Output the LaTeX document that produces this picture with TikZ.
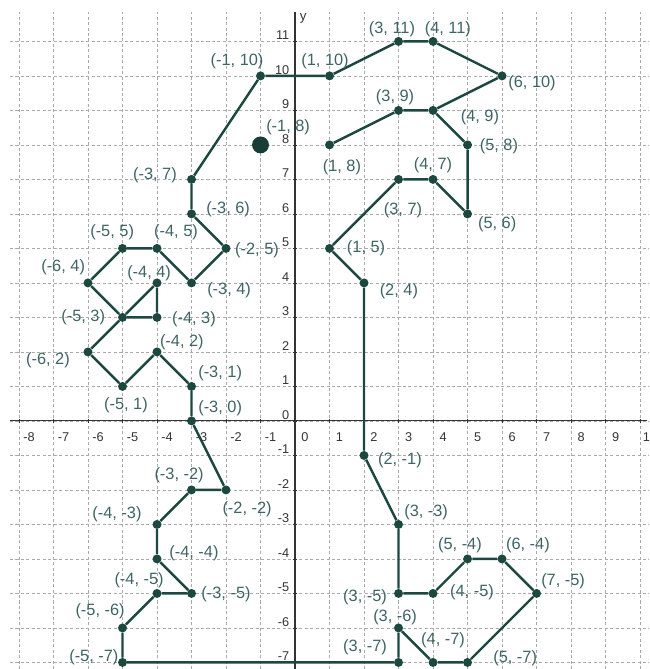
\documentclass[tikz,border=0pt]{standalone}
\usepackage{fontspec}
\setmainfont{Liberation Sans}
\definecolor{linec}{RGB}{28,72,64}
\definecolor{labc}{RGB}{62,100,100}
\definecolor{gridc}{RGB}{170,170,170}
\begin{document}
\begin{tikzpicture}[x=1cm,y=1cm,
  pt/.style={circle,fill=linec,inner sep=0pt,minimum size=0.26cm},
  bigpt/.style={circle,fill=linec!85!black,inner sep=0pt,minimum size=0.49cm},
  lab/.style={text=labc,font=\fontsize{13.5}{14}\selectfont,inner sep=0pt},
  ticklab/.style={font=\fontsize{10.5}{11}\selectfont,text=black!80,inner sep=0pt},
  gridline/.style={draw=gridc,line width=0.5pt,dash pattern=on 2.5pt off 2pt},
  axisline/.style={draw=black!80,line width=0.9pt},
  seg/.style={draw=linec,line width=2pt}]
\useasboundingbox (-8.551,-7.19) rectangle (10.261,12.20);
\clip (-8.551,-7.19) rectangle (10.261,12.20);
% grid
\foreach \x in {-8,...,10} \draw[gridline] (\x,-7.19) -- (\x,11.86);
\foreach \y in {-7,...,11} \draw[gridline] (-8.26,\y) -- (10.26,\y);
% axes
\coordinate (xa0) at (-8.26,0);
\coordinate (xa1) at (10.2,0);
\coordinate (ya0) at (0,-7.19);
\coordinate (ya1) at (0,11.86);
\draw[axisline] (xa0) -- (xa1);
\draw[axisline] (ya0) -- (ya1);
\foreach \x in {-8,...,10} {
  \draw[axisline,line width=0.6pt] (\x,-0.07) -- (\x,0.07);
  \node[ticklab] (xl\x) at (\x+0.29,-0.46) {\x};
}
\foreach \y in {-7,...,11} {
  \draw[axisline,line width=0.6pt] (-0.07,\y) -- (0.07,\y);
  \node[ticklab,anchor=east] (yl\y) at (-0.16,\y+0.17) {\y};
}
\node[ticklab,font=\fontsize{11}{12}\selectfont] (ylab) at (0.24,11.68) {y};
% points
\foreach \n/\x/\y in {t1/-1/10,t2/1/10,t3/3/11,t4/4/11,t5/6/10,t6/4/9,t7/3/9,t8/1/8,
  t9/5/8,t10/5/6,t11/4/7,t12/3/7,t13/1/5,t14/2/4,t15/2/-1,t16/3/-3,t17/3/-5,t18/4/-5,
  t19/5/-4,t20/6/-4,t21/7/-5,t22/5/-7,t23/4/-7,t24/3/-6,t25/3/-7,t26/-5/-7,t27/-5/-6,
  t28/-4/-5,t29/-3/-5,t30/-4/-4,t31/-4/-3,t32/-3/-2,t33/-2/-2,t34/-3/0,t35/-3/1,
  t36/-4/2,t37/-5/1,t38/-6/2,t39/-5/3,t40/-4/4,t41/-4/3,t42/-6/4,t43/-5/5,t44/-4/5,
  t45/-3/4,t46/-2/5,t47/-3/6,t48/-3/7}
  \node[pt] (\n) at (\x,\y) {};
\node[bigpt] (t49) at (-1,8) {};
% segments
\draw[seg] (t1) -- (t2) -- (t3) -- (t4) -- (t5) -- (t6) -- (t7) -- (t8);
\draw[seg] (t6) -- (t9) -- (t10) -- (t11) -- (t12) -- (t13) -- (t14) -- (t15) -- (t16)
  -- (t17) -- (t18) -- (t19) -- (t20) -- (t21) -- (t22) -- (t23) -- (t24) -- (t25)
  -- (t26) -- (t27) -- (t28) -- (t29) -- (t30) -- (t31) -- (t32) -- (t33) -- (t34)
  -- (t35) -- (t36) -- (t37) -- (t38) -- (t39) -- (t40) -- (t41) -- (t39) -- (t42)
  -- (t43) -- (t44) -- (t45) -- (t46) -- (t47) -- (t48) -- (t1);
% labels
\node[lab] (l1) at (-1.68,10.41) {(-1, 10)};
\node[lab] (l2) at (0.87,10.41) {(1, 10)};
\node[lab] (l3) at (2.81,11.36) {(3, 11)};
\node[lab] (l4) at (4.43,11.36) {(4, 11)};
\node[lab] (l5) at (6.87,9.80) {(6, 10)};
\node[lab] (l6) at (5.36,8.81) {(4, 9)};
\node[lab] (l7) at (2.90,9.39) {(3, 9)};
\node[lab] (l8) at (1.36,7.36) {(1, 8)};
\node[lab] (l9) at (5.91,7.97) {(5, 8)};
\node[lab] (l10) at (5.86,5.71) {(5, 6)};
\node[lab] (l11) at (4.00,7.42) {(4, 7)};
\node[lab] (l12) at (3.13,6.12) {(3, 7)};
\node[lab] (l13) at (2.06,5.01) {(1, 5)};
\node[lab] (l14) at (3.01,3.77) {(2, 4)};
\node[lab] (l15) at (3.04,-1.13) {(2, -1)};
\node[lab] (l16) at (3.80,-2.64) {(3, -3)};
\node[lab] (l17) at (2.03,-5.10) {(3, -5)};
\node[lab] (l18) at (5.13,-4.96) {(4, -5)};
\node[lab] (l19) at (4.78,-3.59) {(5, -4)};
\node[lab] (l20) at (6.75,-3.59) {(6, -4)};
\node[lab] (l21) at (7.77,-4.64) {(7, -5)};
\node[lab] (l22) at (6.38,-6.87) {(5, -7)};
\node[lab] (l23) at (4.29,-6.35) {(4, -7)};
\node[lab] (l24) at (2.90,-5.68) {(3, -6)};
\node[lab] (l25) at (2.03,-6.55) {(3, -7)};
\node[lab] (l26) at (-5.83,-6.84) {(-5, -7)};
\node[lab] (l27) at (-5.65,-5.51) {(-5, -6)};
\node[lab] (l28) at (-4.52,-4.61) {(-4, -5)};
\node[lab] (l29) at (-2.00,-5.01) {(-3, -5)};
\node[lab] (l30) at (-2.93,-3.83) {(-4, -4)};
\node[lab] (l31) at (-5.16,-2.70) {(-4, -3)};
\node[lab] (l32) at (-3.36,-1.57) {(-3, -2)};
\node[lab] (l33) at (-1.39,-2.55) {(-2, -2)};
\node[lab] (l34) at (-2.17,0.38) {(-3, 0)};
\node[lab] (l35) at (-2.17,1.39) {(-3, 1)};
\node[lab] (l36) at (-3.28,2.29) {(-4, 2)};
\node[lab] (l37) at (-4.90,0.46) {(-5, 1)};
\node[lab] (l38) at (-7.16,1.77) {(-6, 2)};
\node[lab] (l39) at (-6.14,3.01) {(-5, 3)};
\node[lab] (l40) at (-4.23,4.29) {(-4, 4)};
\node[lab] (l41) at (-2.93,2.96) {(-4, 3)};
\node[lab] (l42) at (-6.72,4.46) {(-6, 4)};
\node[lab] (l43) at (-5.30,5.48) {(-5, 5)};
\node[lab] (l44) at (-3.45,5.48) {(-4, 5)};
\node[lab] (l45) at (-1.91,3.80) {(-3, 4)};
\node[lab] (l46) at (-1.10,4.96) {(-2, 5)};
\node[lab] (l47) at (-1.94,6.14) {(-3, 6)};
\node[lab] (l48) at (-4.06,7.13) {(-3, 7)};
\node[lab] (l49) at (-0.20,8.52) {(-1, 8)};
\end{tikzpicture}
\end{document}
